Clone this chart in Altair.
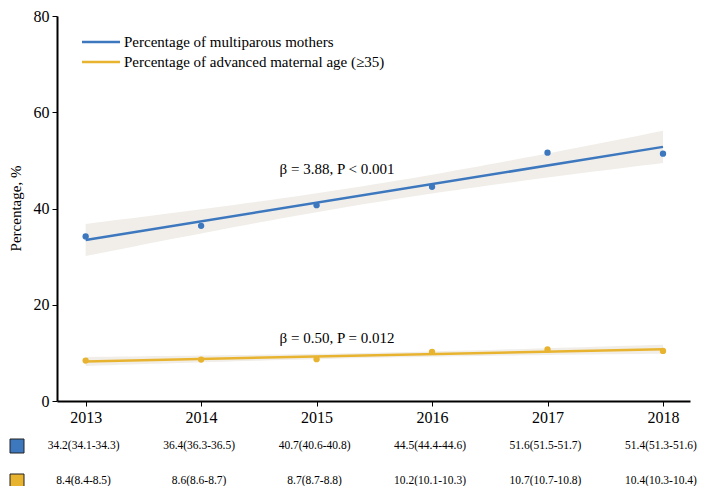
import altair as alt
import numpy as np
import pandas as pd

years = [2013, 2014, 2015, 2016, 2017, 2018]
multiparous = [34.2, 36.4, 40.7, 44.5, 51.6, 51.4]
advanced_age = [8.4, 8.6, 8.7, 10.2, 10.7, 10.4]
multiparous_ci = ["34.2(34.1-34.3)", "36.4(36.3-36.5)", "40.7(40.6-40.8)",
                  "44.5(44.4-44.6)", "51.6(51.5-51.7)", "51.4(51.3-51.6)"]
advanced_ci = ["8.4(8.4-8.5)", "8.6(8.6-8.7)", "8.7(8.7-8.8)",
               "10.2(10.1-10.3)", "10.7(10.7-10.8)", "10.4(10.3-10.4)"]
series_names = ["Percentage of multiparous mothers",
                "Percentage of advanced maternal age (\u226535)"]
annotations = ["\u03b2 = 3.88, P < 0.001", "\u03b2 = 0.50, P = 0.012"]
annot_x = [2014.68, 2014.68]
annot_y = [48.2, 13.1]

BLUE = "#3d78bf"
GOLD = "#e8b430"
BAND = "#f1eeea"
FONT = "Liberation Serif"

pts = pd.DataFrame({
    "year": years * 2,
    "value": multiparous + advanced_age,
    "series": [series_names[0]] * 6 + [series_names[1]] * 6,
})

# 95% confidence band of the OLS fit, derived from the data
band_rows = []
xs = np.array(years, dtype=float)
grid = np.linspace(2013, 2018, 51)
t_crit = 2.776
for name, vals in zip(series_names, [multiparous, advanced_age]):
    y = np.array(vals)
    b, a = np.polyfit(xs, y, 1)
    resid = y - (a + b * xs)
    s = np.sqrt((resid ** 2).sum() / (len(xs) - 2))
    sxx = ((xs - xs.mean()) ** 2).sum()
    for g in grid:
        fit = a + b * g
        se = s * np.sqrt(1 / len(xs) + (g - xs.mean()) ** 2 / sxx)
        band_rows.append({"year": g, "lo": fit - t_crit * se, "hi": fit + t_crit * se, "series": name})
band = pd.DataFrame(band_rows)

color_scale = alt.Scale(domain=series_names, range=[BLUE, GOLD])
x_scale = alt.Scale(domain=[2012.752, 2018.234], nice=False, zero=False)
y_scale = alt.Scale(domain=[0, 80], nice=False)

x_axis = alt.Axis(values=years, format="d", title=None, labelFont=FONT)
y_axis = alt.Axis(values=[0, 20, 40, 60, 80], title="Percentage, %", labelFont=FONT,
                  titleAngle=270, titleX=-42, titleY=192, titleAlign="center",
                  titleBaseline="middle")

band_layer = alt.Chart(band).mark_area(color=BAND, opacity=1).encode(
    x=alt.X("year:Q", scale=x_scale, axis=x_axis),
    y=alt.Y("lo:Q", scale=y_scale, axis=y_axis),
    y2="hi:Q",
    detail="series:N",
)

reg_layer = alt.Chart(pts).transform_regression(
    "year", "value", groupby=["series"]
).mark_line(strokeWidth=2.5).encode(
    x=alt.X("year:Q", scale=x_scale, axis=x_axis),
    y=alt.Y("value:Q", scale=y_scale, axis=y_axis),
    color=alt.Color("series:N", scale=color_scale, legend=None),
)

pt_layer = alt.Chart(pts).mark_circle(size=40, opacity=1).encode(
    x=alt.X("year:Q", scale=x_scale, axis=x_axis),
    y=alt.Y("value:Q", scale=y_scale, axis=y_axis),
    color=alt.Color("series:N", scale=color_scale, legend=None),
)

ann_df = pd.DataFrame({"x": annot_x, "y": annot_y, "text": annotations})
ann_layer = alt.Chart(ann_df).mark_text(align="left", baseline="middle", font=FONT,
                                        fontSize=15, color="black").encode(
    x=alt.X("x:Q", scale=x_scale, axis=x_axis), y=alt.Y("y:Q", scale=y_scale, axis=y_axis),
    text="text:N")

# manual legend
leg_layers = []
for i, (name, col) in enumerate(zip(series_names, [BLUE, GOLD])):
    ypix = 26 + 20 * i
    leg_df = pd.DataFrame({"label": [name]})
    leg_layers.append(alt.Chart(leg_df).mark_rule(color=col, strokeWidth=2.5).encode(
        x=alt.value(25), x2=alt.value(63), y=alt.value(ypix)))
    leg_layers.append(alt.Chart(leg_df).mark_text(align="left", baseline="middle", font=FONT,
                                                  fontSize=15, color="black").encode(
        x=alt.value(67), y=alt.value(ypix), text="label:N"))

# table below the axis
table_layers = []
for i, (labels, col) in enumerate(zip([multiparous_ci, advanced_ci], [BLUE, GOLD])):
    ypix = 430 + 35 * i
    tdf = pd.DataFrame({"year": years, "label": labels})
    table_layers.append(alt.Chart(tdf).mark_text(baseline="middle", align="center", font=FONT,
                                                 fontSize=11.5, dx=-2, color="black").encode(
        x=alt.X("year:Q", scale=x_scale), y=alt.value(ypix), text="label:N"))
    table_layers.append(alt.Chart(pd.DataFrame({"k": [series_names[i]]})).mark_square(
        color=col, size=196, opacity=1, stroke="#222222", strokeWidth=1).encode(
        x=alt.value(-40), y=alt.value(ypix)))

chart = alt.layer(band_layer, reg_layer, pt_layer, ann_layer, *leg_layers, *table_layers).properties(
    width=633, height=385,
    autosize=alt.AutoSizeParams(type="none"),
    padding={"left": 49, "top": 8, "right": 14, "bottom": 85},
).configure(
    font=FONT,
    style={"guide-label": {"font": FONT}, "guide-title": {"font": FONT}},
).configure_view(stroke=None).configure_axis(
    grid=False, tickSize=5, labelPadding=3, domainColor="black", domainWidth=2,
    tickColor="black", labelFont=FONT, labelFontSize=16, labelColor="black",
    titleFont=FONT, titleFontSize=15, titleFontWeight="normal", titleColor="black",
)

chart.save("out.html", embed_options={"renderer": "svg", "actions": False})
